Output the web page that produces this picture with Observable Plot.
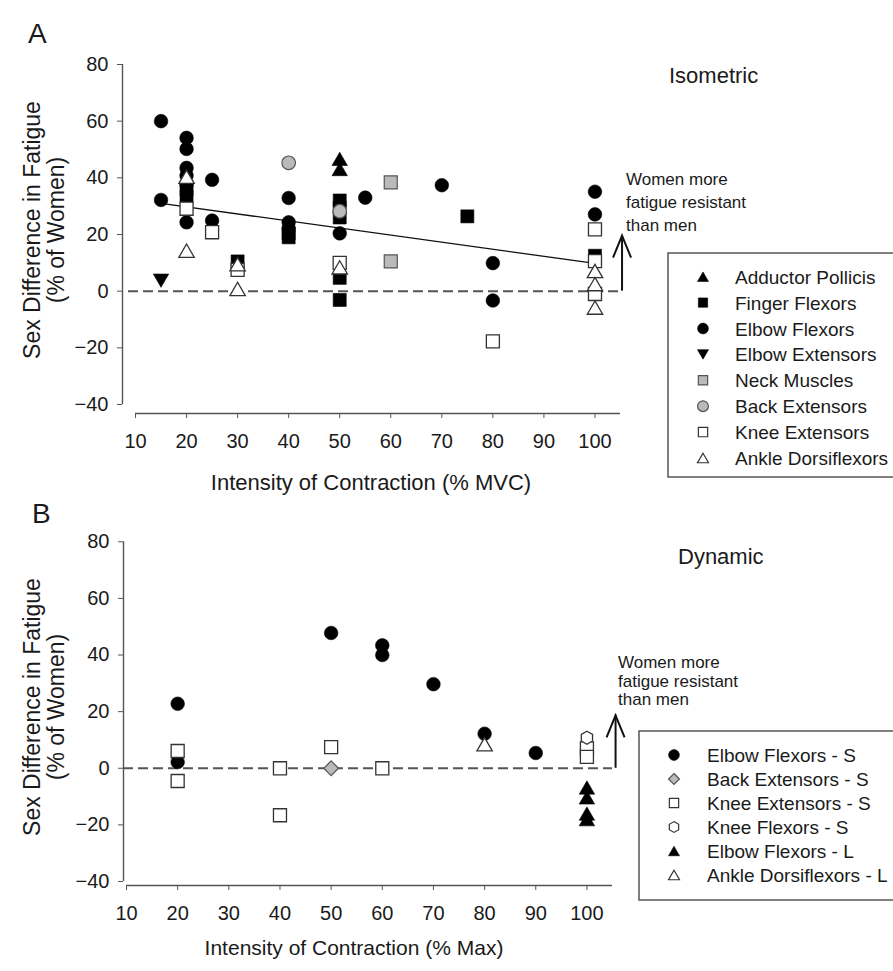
<!DOCTYPE html>
<html><head><meta charset="utf-8">
<script src="https://cdn.jsdelivr.net/npm/d3@7"></script>
<script src="https://cdn.jsdelivr.net/npm/@observablehq/plot@0.6"></script>
<style>
body{margin:0;background:#fff;}
#root{position:relative;width:893px;height:971px;overflow:hidden;background:#fff;font-family:"Liberation Sans",Arial,Helvetica,sans-serif;}
#root > svg{position:absolute;left:0;}
</style></head><body><div id="root"></div>
<script>
// ---------- DATA ----------
const xTicks = [10,20,30,40,50,60,70,80,90,100];
const yTicks = [-40,-20,0,20,40,60,80];

// Panel A: Isometric  [intensity %MVC, sex difference %]
const isoSeries = ["Adductor Pollicis","Finger Flexors","Elbow Flexors","Elbow Extensors","Neck Muscles","Back Extensors","Knee Extensors","Ankle Dorsiflexors"];
const isoAdductorPollicis = [[50,46.7],[50,43.1]];
const isoFingerFlexors = [[20,36],[20,33.5],[30,10.5],[40,20.5],[40,19],[50,32],[50,29.5],[50,26],[50,4.7],[50,-3.1],[75,26.4],[100,12.5]];
const isoElbowFlexors = [[15,60],[15,32.2],[20,54.1],[20,50.2],[20,43.5],[20,40.8],[20,37.5],[20,24.3],[25,39.3],[25,24.9],[40,32.9],[40,24.3],[40,22],[50,20.4],[55,33],[70,37.4],[80,9.9],[80,-3.3],[100,35.1],[100,27.1]];
const isoElbowExtensors = [[15,3.7]];
const isoNeckMuscles = [[60,38.4],[60,10.5]];
const isoBackExtensors = [[40,45.3],[50,28.2]];
const isoKneeExtensors = [[20,29.1],[25,20.8],[30,7.5],[50,10],[80,-17.7],[100,21.8],[100,10.6],[100,-1]];
const isoAnkleDorsiflexors = [[20,40.4],[20,14.3],[30,9.5],[30,0.8],[50,8.4],[100,7.1],[100,2.5],[100,-5.8]];
const isoTrend = [[15,31],[100,9.8]];

// Panel B: Dynamic  [intensity %Max, sex difference %]
const dynSeries = ["Elbow Flexors - S","Back Extensors - S","Knee Extensors - S","Knee Flexors - S","Elbow Flexors - L","Ankle Dorsiflexors - L"];
const dynElbowFlexorsS = [[20,22.8],[20,2.2],[50,47.8],[60,43.4],[60,40],[70,29.7],[80,12.2],[90,5.4]];
const dynBackExtensorsS = [[50,0]];
const dynKneeExtensorsS = [[20,6.1],[20,-4.5],[40,0],[40,-16.6],[50,7.5],[60,0],[100,7],[100,4]];
const dynKneeFlexorsS = [[100,10.8]];
const dynElbowFlexorsL = [[100,-6.8],[100,-10.3],[100,-16],[100,-18]];
const dynAnkleDorsiflexorsL = [[80,8.5]];

// annotation arrows (x, from y1 to y2)
const arrowA = [{x:105.3, y1:0, y2:19.6}];
const arrowB = [{x:105.6, y1:0, y2:18.7}];
const noteLines = ["Women more","fatigue resistant","than men"];

// ---------- SYMBOLS ----------
const R = s => Math.sqrt(s/Math.PI);
const sym = {
  circle:{draw(c,s){const r=R(s);c.moveTo(r,0);c.arc(0,0,r,0,2*Math.PI);c.closePath();}},
  square:{draw(c,s){const r=R(s)*0.93;c.rect(-r,-r,2*r,2*r);}},
  triUp:{draw(c,s){const r=R(s),w=1.1*r,h=0.95*r;c.moveTo(0,-h);c.lineTo(w,h);c.lineTo(-w,h);c.closePath();}},
  triDown:{draw(c,s){const r=R(s),w=1.1*r,h=0.95*r;c.moveTo(0,h);c.lineTo(w,-h);c.lineTo(-w,-h);c.closePath();}},
  diamond:{draw(c,s){const r=R(s)*1.05;c.moveTo(0,-r);c.lineTo(r,0);c.lineTo(0,r);c.lineTo(-r,0);c.closePath();}},
  hexagon:{draw(c,s){const r=R(s);for(let k=0;k<6;k++){const a=-Math.PI/2+k*Math.PI/3;const px=r*Math.cos(a),py=r*Math.sin(a);k?c.lineTo(px,py):c.moveTo(px,py);}c.closePath();}},
  chevron:{draw(c,s){c.moveTo(-9,22);c.lineTo(0,0);c.lineTo(9,22);}}
};
const BLACK={fill:"#000",stroke:"#000",strokeWidth:0.6};
const GRAY={fill:"#bababa",stroke:"#555",strokeWidth:1.2};
const WHITE={fill:"#fff",stroke:"#333",strokeWidth:1.3};

const isoStyle = [
  [isoAdductorPollicis, sym.triUp, 7, BLACK, 5],
  [isoFingerFlexors, sym.square, 7, BLACK, 5],
  [isoElbowFlexors, sym.circle, 6.8, BLACK, 5.4],
  [isoElbowExtensors, sym.triDown, 7, BLACK, 5],
  [isoNeckMuscles, sym.square, 7, GRAY, 5],
  [isoBackExtensors, sym.circle, 6.8, GRAY, 5.4],
  [isoKneeExtensors, sym.square, 7, WHITE, 5],
  [isoAnkleDorsiflexors, sym.triUp, 7, WHITE, 5]
];
const dynStyle = [
  [dynElbowFlexorsS, sym.circle, 6.8, BLACK, 5.4],
  [dynBackExtensorsS, sym.diamond, 7, GRAY, 5.2],
  [dynKneeExtensorsS, sym.square, 7, WHITE, 5],
  [dynKneeFlexorsS, sym.hexagon, 6.5, WHITE, 5.4],
  [dynElbowFlexorsL, sym.triUp, 7, BLACK, 5],
  [dynAnkleDorsiflexorsL, sym.triUp, 7, WHITE, 5]
];

const fontFam = '"Liberation Sans", Arial, Helvetica, sans-serif';

function panel({height, mt, mb, ml, mr, axisDx, axisDy, styles, trend, arrow, dashInset}) {
  const dots = styles.map(([data, symbol, r, st]) =>
    Plot.dot(data, {x: d=>d[0], y: d=>d[1], symbol, r, ...st}));
  return Plot.plot({
    width: 893, height,
    marginTop: mt, marginBottom: mb, marginLeft: ml, marginRight: mr,
    x: {domain: [10,105]},
    y: {domain: [-40,80]},
    style: {fontFamily: fontFam, fontSize: "20px", color: "#1a1a1a", background: "transparent", overflow: "visible"},
    marks: [
      Plot.ruleY([-40], {dy: axisDy, stroke: "#555", strokeWidth: 1.4}),
      Plot.ruleX([10], {y1: -40, y2: 80, dx: axisDx, stroke: "#555", strokeWidth: 1.4}),
      Plot.axisX({ticks: xTicks, tickSize: 5, tickPadding: 15, dy: axisDy, label: null, stroke: "#555"}),
      Plot.axisY({ticks: yTicks, tickSize: 5, tickPadding: 9, dx: axisDx, label: null, stroke: "#555"}),
      Plot.ruleY([0], {stroke: "#555", strokeWidth: 2, strokeDasharray: "10,5", insetLeft: dashInset}),
      ...(trend ? [Plot.line(trend, {x: d=>d[0], y: d=>d[1], stroke: "#111", strokeWidth: 1.3})] : []),
      ...dots,
      Plot.ruleX(arrow, {x: "x", y1: "y1", y2: "y2", stroke: "#111", strokeWidth: 2}),
      Plot.dot(arrow, {x: "x", y: "y2", symbol: sym.chevron, r: 5, fill: "none", stroke: "#111", strokeWidth: 2})
    ]
  });
}

const root = document.getElementById("root");
const plotA = panel({height: 490, mt: 64, mb: 86, ml: 135, mr: 273, axisDx: -13, axisDy: 9, styles: isoStyle, trend: isoTrend, arrow: arrowA, dashInset: -7});
plotA.style.top = "0px";
root.append(plotA);
const plotB = panel({height: 481, mt: 51.3, mb: 90, ml: 126, mr: 281, axisDx: -3, axisDy: 4, styles: dynStyle, trend: null, arrow: arrowB, dashInset: -3});
plotB.style.top = "490px";
root.append(plotB);

// ---------- OVERLAY TEXT & LEGENDS ----------
const ov = d3.select(root).append("svg").attr("width", 893).attr("height", 971)
  .style("position","absolute").style("top","0px").style("left","0px")
  .attr("font-family", fontFam).attr("fill", "#1a1a1a");

function text(x, y, s, size, anchor="start") {
  return ov.append("text").attr("x", x).attr("y", y).attr("font-size", size).attr("text-anchor", anchor).text(s);
}
text(28, 43, "A", 28);
text(32, 523, "B", 28);
text(669, 83, "Isometric", 22);
text(678, 564, "Dynamic", 22);
text(371, 490, "Intensity of Contraction (% MVC)", 22, "middle");
text(354, 955, "Intensity of Contraction (% Max)", 21, "middle");

function yTitle(cy) {
  const g = ov.append("g");
  [["Sex Difference in Fatigue", 32], ["(% of Women)", 56]].forEach(([s, x]) => {
    g.append("text").attr("transform", `translate(${x},${cy}) rotate(-90)`)
      .attr("text-anchor", "middle").attr("dy", "0.35em").attr("font-size", 23).text(s);
  });
}
yTitle(230);
yTitle(707);

noteLines.forEach((s, i) => text(626, 185 + i*23, s, 17));
noteLines.forEach((s, i) => text(618, 668 + i*18.5, s, 17));

function symPath(symbol, r) { const p = d3.path(); symbol.draw(p, Math.PI*r*r); return p.toString(); }

function legend(x, y, h, names, styles, symX, textX, y0, step) {
  ov.append("rect").attr("x", x).attr("y", y).attr("width", 300).attr("height", h)
    .attr("fill", "none").attr("stroke", "#555").attr("stroke-width", 1.5);
  names.forEach((name, i) => {
    const [, symbol, , st, lr] = styles[i];
    const cy = y0 + i*step;
    ov.append("path").attr("d", symPath(symbol, lr)).attr("transform", `translate(${symX},${cy})`)
      .attr("fill", st.fill).attr("stroke", st.stroke).attr("stroke-width", Math.min(st.strokeWidth, 1.2));
    text(textX, cy + 7, name, 19);
  });
}
legend(668, 253, 224, isoSeries, isoStyle, 703, 735, 276.7, 25.9);
legend(639, 731, 169, dynSeries, dynStyle, 674, 707, 755, 24);
</script></body></html>
